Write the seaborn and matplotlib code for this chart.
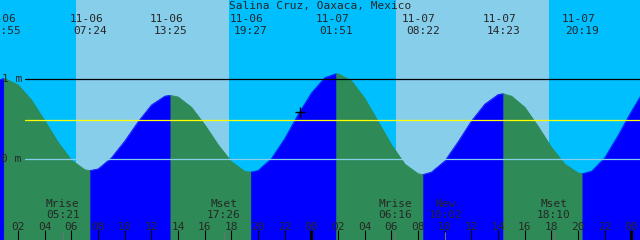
import matplotlib
matplotlib.use("Agg")
import matplotlib.pyplot as plt
import seaborn as sns
import pandas as pd

# ---------------- data ----------------
title = "Salina Cruz, Oaxaca, Mexico"

# hourly tide heights (m), hours counted from 11-06 00:00
hours = list(range(0, 50))
heights = [0.96, 1.01, 0.93, 0.74, 0.48, 0.21, -0.01, -0.13, -0.12, 0.02,
           0.23, 0.47, 0.68, 0.79, 0.78, 0.65, 0.43, 0.18, -0.03, -0.15,
           -0.14, 0.01, 0.26, 0.56, 0.83, 1.02, 1.07, 0.98, 0.76, 0.47,
           0.18, -0.06, -0.18, -0.16, -0.02, 0.22, 0.48, 0.69, 0.81, 0.79,
           0.65, 0.41, 0.15, -0.06, -0.17, -0.15, 0.02, 0.30, 0.60, 0.88]

# high / low tides
ext_dates = ["11-06", "11-06", "11-06", "11-06", "11-07", "11-07", "11-07", "11-07"]
ext_times = ["00:55", "07:24", "13:25", "19:27", "01:51", "08:22", "14:23", "20:19"]
ext_heights = [1.01, -0.14, 0.80, -0.16, 1.07, -0.19, 0.82, -0.18]

# sun
sunrise = ["06:20", "06:20"]
sunset = ["17:49", "17:49"]

# moon events
moon_labels = ["Mrise", "Mset", "Mrise", "New", "Mset"]
moon_dates = ["11-06", "11-06", "11-07", "11-07", "11-07"]
moon_times = ["05:21", "17:26", "06:16", "10:02", "18:10"]

tick_hours = list(range(2, 49, 2))
mean_level = 0.49
now_time, now_height = "23:08", 0.59
now_date = "11-06"


# ---------------- helpers ----------------
def to_h(date, hm):
    d = 0 if date == "11-06" else 24
    hh, mm = hm.split(":")
    return d + int(hh) + int(mm) / 60.0


PX = 13.333   # pixels per hour
X_OFF = 8.5   # pixel offset
Y0 = 159.3    # pixel row of 0 m
PY = 80.0     # pixels per metre


def hx(px):
    return (px + X_OFF) / PX


def hy(py):
    return (Y0 - py) / PY


sns.set_style("white")
plt.rcParams["font.family"] = ["DejaVu Sans Mono", "DejaVu Sans"]

fig = plt.figure(figsize=(6.4, 2.4), dpi=100)
fig.patch.set_facecolor("#00BFFF")
ax = fig.add_axes([0, 0, 1, 1])
ax.set_axis_off()
ax.set_xlim(hx(0), hx(640))
ax.set_ylim(hy(240), hy(0))

# daylight
for i, (sr, ss) in enumerate(zip(sunrise, sunset)):
    d = "11-06" if i == 0 else "11-07"
    ax.axvspan(to_h(d, sr), to_h(d, ss), color="#87CEEB", lw=0, zorder=0)

# tide curve points (hourly + extremes)
ext_h = [to_h(d, t) for d, t in zip(ext_dates, ext_times)]
df = pd.DataFrame({"t": hours + ext_h, "v": heights + ext_heights}).sort_values("t")
df = df.drop_duplicates("t").reset_index(drop=True)

bounds = [df.t.min()] + ext_h + [df.t.max()]
bottom = hy(245)
for a, b in zip(bounds[:-1], bounds[1:]):
    seg = df[(df.t >= a) & (df.t <= b)]
    rising = seg.v.iloc[-1] > seg.v.iloc[0]
    col = "#0000FF" if rising else "#2E8B57"
    ax.fill_between(seg.t, seg.v, bottom, color=col, edgecolor=col, lw=0.4, zorder=1)
    sns.lineplot(x=seg.t.values, y=seg.v.values, color=col, lw=0.5, ax=ax,
                 sort=False, estimator=None, zorder=1.5, legend=False)

# reference lines
ax.axhline(1.0, xmin=25 / 640, xmax=1, color="black", lw=0.9, zorder=2)
ax.axhline(0.0, xmin=25 / 640, xmax=1, color="#87CEEB", lw=0.9, zorder=2)
ax.axhline(mean_level, xmin=25 / 640, xmax=1, color="#FFFF00", lw=0.9, zorder=2)

ax.text(hx(2), hy(82.3), "1 m", fontsize=8, ha="left", va="baseline", zorder=4)
ax.text(hx(1), hy(162.3), "0 m", fontsize=8, ha="left", va="baseline", zorder=4)

# now marker
sns.scatterplot(x=[to_h(now_date, now_time)], y=[now_height], marker="+", s=60,
                color="black", linewidth=1.0, ax=ax, zorder=3, legend=False)

# title and extreme labels
ax.text(hx(320), hy(9.5), title, fontsize=8, ha="center", va="baseline", zorder=4)
for d, t, h in zip(ext_dates, ext_times, ext_h):
    ax.text(h - 4 / PX, hy(21.7), d, fontsize=8, ha="center", va="baseline", zorder=4)
    ax.text(h, hy(34), t, fontsize=8, ha="center", va="baseline", zorder=4)

# bottom hour ticks
for h in tick_hours:
    lab = "%02d" % (h % 24)
    ax.text(h, hy(230), lab, fontsize=8, ha="center", va="baseline", zorder=4)
    lw = 2.2 if h % 24 == 0 else 0.8
    ax.vlines(h, hy(240), hy(230), color="black", lw=lw, zorder=3)

# moon events
for lab, d, t in zip(moon_labels, moon_dates, moon_times):
    h = to_h(d, t)
    ax.vlines(h, hy(240), hy(231.5), color="#707070", lw=0.8, zorder=3)
    ax.text(h, hy(206.7), lab, fontsize=8, ha="center", va="baseline", zorder=4)
    ax.text(h, hy(217.7), t, fontsize=8, ha="center", va="baseline", zorder=4)

fig.savefig("out.png", dpi=100, facecolor=fig.get_facecolor())
